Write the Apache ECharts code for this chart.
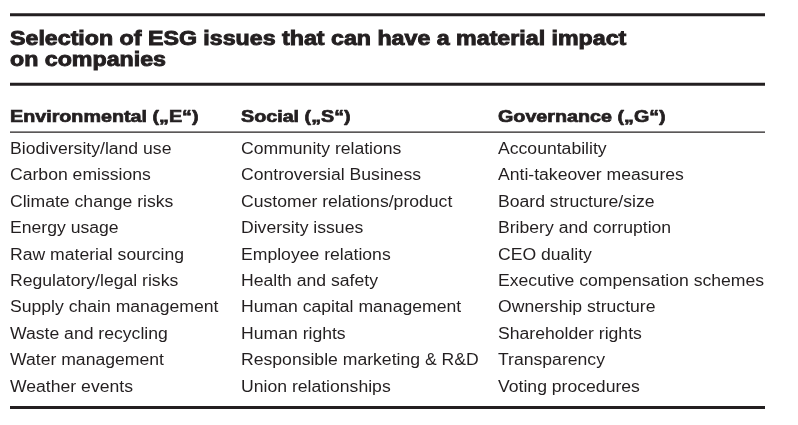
<!DOCTYPE html>
<html>
<head>
<meta charset="utf-8">
<script src="https://cdn.jsdelivr.net/npm/echarts@6/dist/echarts.min.js"></script>
<style>
  html, body { margin: 0; padding: 0; background: #fff; }
  #chart { width: 798px; height: 425px; }
</style>
</head>
<body>
<div id="chart"></div>
<script>
// table content
var titleLines = ['Selection of ESG issues that can have a material impact', 'on companies'];
var headers = ['Environmental (\u201EE\u201C)', 'Social (\u201ES\u201C)', 'Governance (\u201EG\u201C)'];
var environmental = ['Biodiversity/land use', 'Carbon emissions', 'Climate change risks', 'Energy usage',
  'Raw material sourcing', 'Regulatory/legal risks', 'Supply chain management', 'Waste and recycling',
  'Water management', 'Weather events'];
var social = ['Community relations', 'Controversial Business', 'Customer relations/product', 'Diversity issues',
  'Employee relations', 'Health and safety', 'Human capital management', 'Human rights',
  'Responsible marketing & R&D', 'Union relationships'];
var governance = ['Accountability', 'Anti-takeover measures', 'Board structure/size', 'Bribery and corruption',
  'CEO duality', 'Executive compensation schemes', 'Ownership structure', 'Shareholder rights',
  'Transparency', 'Voting procedures'];

var ink = '#231f20';
var colX = [10, 241, 498];
var left = 10, right = 765;
var rowTop = 149.6, rowStep = 26.4;

var chart = echarts.init(document.getElementById('chart'));
var els = [];

// rules
function rule(y, h) {
  els.push({ type: 'rect', shape: { x: left, y: y, width: right - left, height: h }, style: { fill: ink } });
}
rule(13.3, 3);
rule(82.8, 3);
rule(131.6, 1.2);
rule(406, 3);

// title
titleLines.forEach(function (t, i) {
  els.push({
    type: 'text', x: left, y: 39.5 + i * 20.5, scaleX: 1.16,
    style: { text: t, fill: ink, stroke: ink, lineWidth: 0.9, font: 'bold 20px "Liberation Sans", Arial, sans-serif', verticalAlign: 'middle', align: 'left' }
  });
});

// headers
headers.forEach(function (h, i) {
  els.push({
    type: 'text', x: colX[i], y: 117, scaleX: 1.16,
    style: { text: h, fill: ink, stroke: ink, lineWidth: 0.7, font: 'bold 17px "Liberation Sans", Arial, sans-serif', verticalAlign: 'middle', align: 'left' }
  });
});

// body
[environmental, social, governance].forEach(function (col, c) {
  col.forEach(function (item, r) {
    els.push({
      type: 'text', x: colX[c], y: rowTop + r * rowStep, scaleX: 1.1,
      style: { text: item, fill: ink, font: '16px "Liberation Sans", Arial, sans-serif', verticalAlign: 'middle', align: 'left' }
    });
  });
});

chart.setOption({
  backgroundColor: '#fff',
  animation: false,
  graphic: els
});
</script>
</body>
</html>
